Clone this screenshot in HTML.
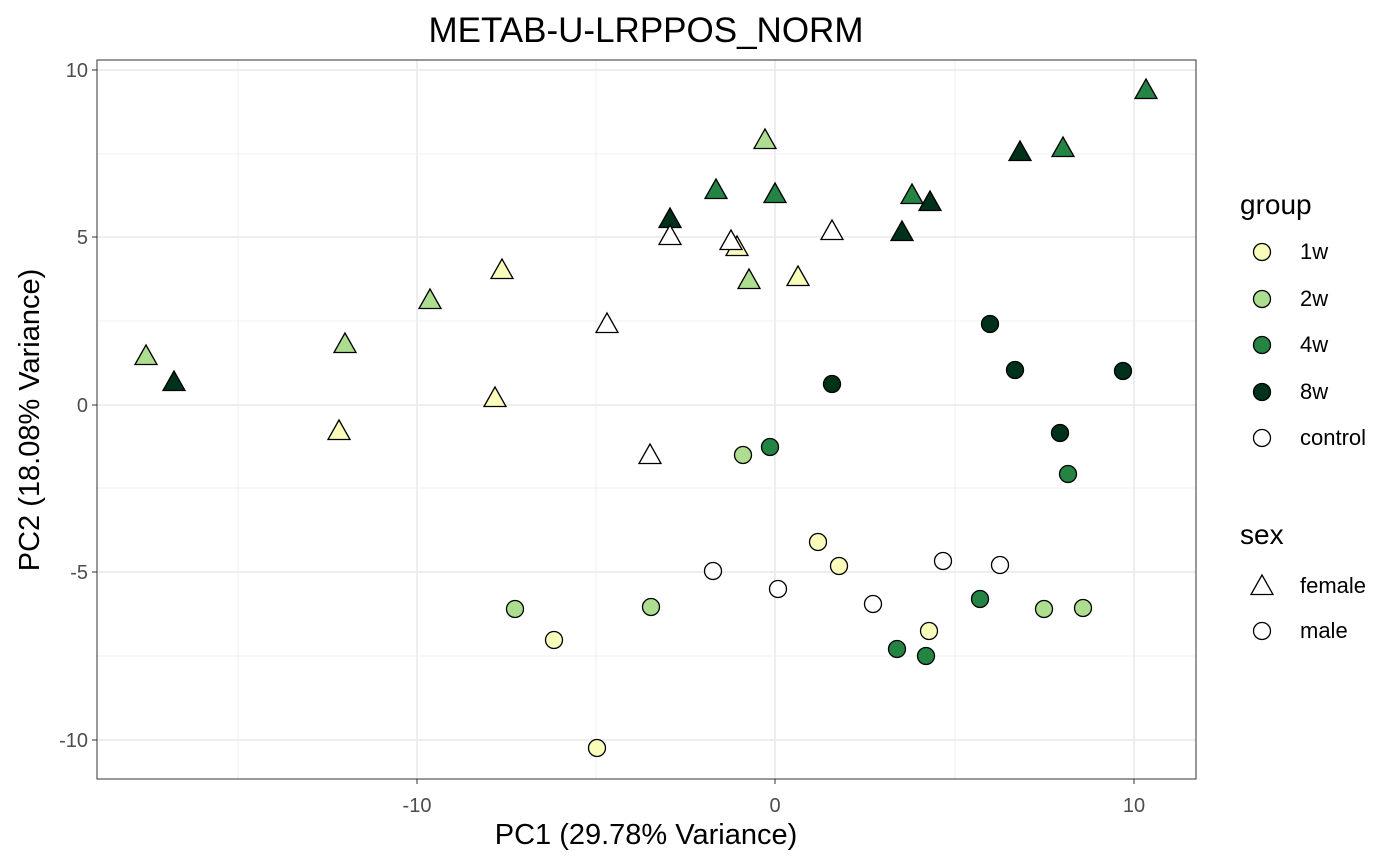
<!DOCTYPE html>
<html><head><meta charset="utf-8"><style>body{margin:0;background:#fff}svg{display:block}text{font-family:"Liberation Sans",sans-serif}</style></head><body>
<svg width="1400" height="865" xmlns="http://www.w3.org/2000/svg">
<defs>
<polygon id="t" points="0,-12 11,7.5 -11,7.5" stroke="#000" stroke-width="1.3"/>
</defs>
<g stroke="#ebebeb" stroke-width="0.8">
<line x1="238" y1="60" x2="238" y2="779"/><line x1="596" y1="60" x2="596" y2="779"/><line x1="955" y1="60" x2="955" y2="779"/>
<line x1="97" y1="154" x2="1196" y2="154"/><line x1="97" y1="321" x2="1196" y2="321"/><line x1="97" y1="488" x2="1196" y2="488"/><line x1="97" y1="656" x2="1196" y2="656"/>
</g>
<g stroke="#ebebeb" stroke-width="1.7">
<line x1="417" y1="60" x2="417" y2="779"/><line x1="775" y1="60" x2="775" y2="779"/><line x1="1134" y1="60" x2="1134" y2="779"/>
<line x1="97" y1="70" x2="1196" y2="70"/><line x1="97" y1="237" x2="1196" y2="237"/><line x1="97" y1="405" x2="1196" y2="405"/><line x1="97" y1="572" x2="1196" y2="572"/><line x1="97" y1="740" x2="1196" y2="740"/>
</g>
<rect x="97" y="60" width="1099" height="719" fill="none" stroke="#333" stroke-width="1"/>
<g stroke="#333"><line x1="92" y1="70" x2="97" y2="70"/><line x1="92" y1="237" x2="97" y2="237"/><line x1="92" y1="405" x2="97" y2="405"/><line x1="92" y1="572" x2="97" y2="572"/><line x1="92" y1="740" x2="97" y2="740"/>
<line x1="417" y1="779" x2="417" y2="784"/><line x1="775" y1="779" x2="775" y2="784"/><line x1="1134" y1="779" x2="1134" y2="784"/></g>
<g font-size="20" fill="#4d4d4d" text-anchor="end">
<text x="88" y="77">10</text><text x="88" y="244">5</text><text x="88" y="412">0</text><text x="88" y="579">-5</text><text x="88" y="747">-10</text></g>
<g font-size="20" fill="#4d4d4d" text-anchor="middle">
<text x="417" y="812">-10</text><text x="775" y="812">0</text><text x="1134" y="812">10</text></g>
<text x="646" y="844" font-size="29" text-anchor="middle">PC1 (29.78% Variance)</text>
<text transform="translate(39,420) rotate(-90)" font-size="29" text-anchor="middle">PC2 (18.08% Variance)</text>
<text x="646" y="42" font-size="35" text-anchor="middle">METAB-U-LRPPOS_NORM</text>
<g fill="#addd8e"><use href="#t" x="146" y="357"/><use href="#t" x="345" y="345"/><use href="#t" x="430" y="301"/><use href="#t" x="765" y="141"/><use href="#t" x="749" y="281"/></g>
<g fill="#00311b"><use href="#t" x="174" y="383"/><use href="#t" x="670" y="220"/><use href="#t" x="902" y="233"/><use href="#t" x="930" y="203"/><use href="#t" x="1020" y="153"/></g>
<g fill="#fafcba"><use href="#t" x="339" y="432"/><use href="#t" x="495" y="399"/><use href="#t" x="502" y="271"/><use href="#t" x="737" y="248"/><use href="#t" x="798" y="278"/></g>
<g fill="#238443"><use href="#t" x="716" y="191"/><use href="#t" x="775" y="195"/><use href="#t" x="912" y="196"/><use href="#t" x="1063" y="149"/><use href="#t" x="1146" y="91"/></g>
<g fill="#fff"><use href="#t" x="607" y="325"/><use href="#t" x="650" y="456"/><use href="#t" x="670" y="237"/><use href="#t" x="731" y="242"/><use href="#t" x="832" y="232"/></g>
<g stroke="#000" stroke-width="1.3">
<g fill="#00311b"><circle cx="832" cy="384" r="8.5"/><circle cx="990" cy="324" r="8.5"/><circle cx="1015" cy="370" r="8.5"/><circle cx="1123" cy="371" r="8.5"/><circle cx="1060" cy="433" r="8.5"/></g>
<g fill="#238443"><circle cx="770" cy="447" r="8.5"/><circle cx="1068" cy="474" r="8.5"/><circle cx="980" cy="599" r="8.5"/><circle cx="897" cy="649" r="8.5"/><circle cx="926" cy="656" r="8.5"/></g>
<g fill="#addd8e"><circle cx="743" cy="455" r="8.5"/><circle cx="515" cy="609" r="8.5"/><circle cx="651" cy="607" r="8.5"/><circle cx="1044" cy="609" r="8.5"/><circle cx="1083" cy="608" r="8.5"/></g>
<g fill="#fafcba"><circle cx="818" cy="542" r="8.5"/><circle cx="839" cy="566" r="8.5"/><circle cx="554" cy="640" r="8.5"/><circle cx="597" cy="748" r="8.5"/><circle cx="929" cy="631" r="8.5"/></g>
<g fill="#fff"><circle cx="713" cy="571" r="8.5"/><circle cx="778" cy="589" r="8.5"/><circle cx="873" cy="604" r="8.5"/><circle cx="943" cy="561" r="8.5"/><circle cx="1000" cy="565" r="8.5"/></g>
<circle cx="1262" cy="252" r="8.5" fill="#fafcba"/><circle cx="1262" cy="299" r="8.5" fill="#addd8e"/><circle cx="1262" cy="345" r="8.5" fill="#238443"/><circle cx="1262" cy="392" r="8.5" fill="#00311b"/><circle cx="1262" cy="438" r="8.5" fill="#fff"/>
<circle cx="1262" cy="631" r="8.5" fill="#fff"/>
</g>
<use href="#t" x="1262" y="587" fill="#fff"/>
<g font-size="28"><text x="1240" y="214">group</text><text x="1240" y="544">sex</text></g>
<g font-size="22">
<text x="1300" y="259">1w</text><text x="1300" y="306">2w</text><text x="1300" y="352">4w</text><text x="1300" y="399">8w</text><text x="1300" y="445">control</text>
<text x="1300" y="593">female</text><text x="1300" y="638">male</text></g>
</svg>
</body></html>
